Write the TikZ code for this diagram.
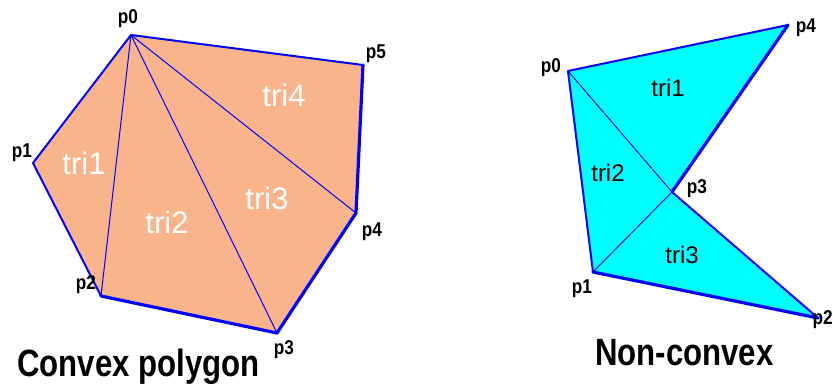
\documentclass[tikz,border=0pt]{standalone}
\usepackage{fontspec}
\setmainfont{Liberation Sans}
\usepackage{tikz}
\definecolor{cEdge}{HTML}{0000FF}
\definecolor{cConvex}{HTML}{F9B48C}
\definecolor{cNonconvex}{HTML}{00FFFF}
\newcommand{\narrow}[2]{\scalebox{#1}[1]{#2}}
\tikzset{
  vlab/.style ={font=\bfseries\fontsize{20}{20}\selectfont, inner sep=0pt},
  tlabw/.style={font=\fontsize{31}{31}\selectfont, text=white, inner sep=0pt},
  tlabk/.style={font=\fontsize{24}{24}\selectfont, text=black, inner sep=0pt},
  title/.style={font=\bfseries\fontsize{38}{38}\selectfont, inner sep=0pt, anchor=base west},
  rim/.style  ={draw=cEdge, line width=2pt, line join=round, line cap=round},
  rimb/.style ={draw=cEdge, line width=3.2pt, line join=round, line cap=round},
  diag/.style ={draw=cEdge, line width=1pt},
}
\begin{document}
\begin{tikzpicture}[x=1pt, y=-1pt]
  \useasboundingbox (0,0) rectangle (833,386);
  % convex polygon
  \coordinate (a0) at (131,35);
  \coordinate (a1) at (33,163);
  \coordinate (a2) at (101,296);
  \coordinate (a3) at (277,333);
  \coordinate (a4) at (356,213);
  \coordinate (a5) at (363,65);
  \fill[cConvex] (a0)--(a1)--(a2)--(a3)--(a4)--(a5)--cycle;
  \draw[diag] (a0)--(a2) (a0)--(a3) (a0)--(a4);
  \draw[rim] (a2)--(a1)--(a0)--(a5);
  \draw[rimb] (a5)--(a4)--(a3)--(a2);
  \node[vlab] (la0) at (128,19) {\narrow{0.86}{p0}};
  \node[vlab] (la1) at (22,153) {\narrow{0.86}{p1}};
  \node[vlab] (la2) at (86,285) {\narrow{0.86}{p2}};
  \node[vlab] (la3) at (284,350) {\narrow{0.86}{p3}};
  \node[vlab] (la4) at (372,232) {\narrow{0.86}{p4}};
  \node[vlab] (la5) at (376,54) {\narrow{0.86}{p5}};
  \node[tlabw] (t1) at (84,163) {tri1};
  \node[tlabw] (t2) at (167,222) {tri2};
  \node[tlabw] (t3) at (267,198) {tri3};
  \node[tlabw] (t4) at (284,95) {tri4};
  \node[title] (cap1) at (17,376) {\narrow{0.82}{Convex polygon}};
  % non-convex polygon
  \coordinate (b0) at (568,71);
  \coordinate (b1) at (593,272);
  \coordinate (b2) at (818,318);
  \coordinate (b3) at (672,192);
  \coordinate (b4) at (788,25);
  \fill[cNonconvex] (b0)--(b4)--(b3)--(b2)--(b1)--cycle;
  \draw[diag] (b0)--(b3) (b1)--(b3);
  \draw[rim] (b1)--(b0)--(b4) (b3)--(b2);
  \draw[rimb] (b4)--(b3) (b1)--(b2);
  \node[vlab] (lb0) at (551,68) {\narrow{0.86}{p0}};
  \node[vlab] (lb1) at (582,289) {\narrow{0.86}{p1}};
  \node[vlab, anchor=east] (lb2) at (833,320) {\narrow{0.86}{p2}};
  \node[vlab] (lb3) at (697,189) {\narrow{0.86}{p3}};
  \node[vlab] (lb4) at (806,28) {\narrow{0.86}{p4}};
  \node[tlabk] (s1) at (668,88) {tri1};
  \node[tlabk] (s2) at (608,173) {tri2};
  \node[tlabk] (s3) at (682,255) {tri3};
  \node[title] (cap2) at (595,365) {\narrow{0.82}{Non-convex}};
\end{tikzpicture}
\end{document}
